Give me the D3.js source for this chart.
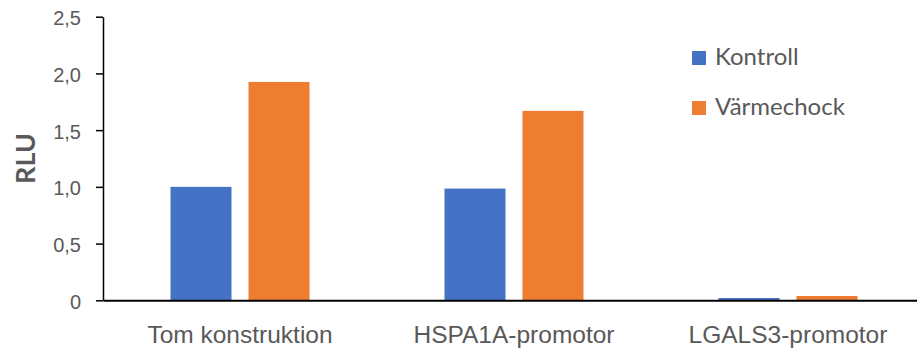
<!DOCTYPE html>
<html>
<head>
<meta charset="utf-8">
<script src="https://cdn.jsdelivr.net/npm/d3@7"></script>
<style>
  html, body { margin: 0; padding: 0; background: #fff; }
  svg { display: block; font-family: Lato, "Open Sans", sans-serif; }
</style>
</head>
<body>
<svg id="chart" width="917" height="352"></svg>
<script>
// Relative luciferase activity per construct
const categories = ["Tom konstruktion", "HSPA1A-promotor", "LGALS3-promotor"];
const series = ["Kontroll", "Värmechock"];
const kontroll = [1.0, 0.985, 0.02];
const varmechock = [1.925, 1.67, 0.038];
const yTicks = [0, 0.5, 1.0, 1.5, 2.0, 2.5];
const colors = ["#4472C4", "#ED7D31"];

const svg = d3.select("#chart");
const plotLeft = 103, plotTop = 16.7, plotBottom = 300.3;
const bandW = 274;

const x0 = d3.scaleBand().domain(categories).range([plotLeft, plotLeft + bandW * categories.length]).padding(0);
const groupW = 139;
const x1 = d3.scaleBand().domain(series).range([0, groupW]).paddingInner(0.218).paddingOuter(0);
const y = d3.scaleLinear().domain([0, 2.5]).range([plotBottom, plotTop]);
const color = d3.scaleOrdinal().domain(series).range(colors);

const fmt = v => v === 0 ? "0" : d3.format(".1f")(v).replace(".", ",");

// Bars
const rows = categories.map((c, i) => ({ cat: c, vals: [kontroll[i], varmechock[i]] }));
const g = svg.append("g");
g.selectAll("g.grp").data(rows).join("g")
  .attr("class", "grp")
  .attr("transform", d => `translate(${x0(d.cat) + (x0.bandwidth() - groupW) / 2},0)`)
  .selectAll("rect").data(d => d.vals.map((v, j) => ({ s: series[j], v })))
  .join("rect")
  .attr("x", d => x1(d.s))
  .attr("width", x1.bandwidth())
  .attr("y", d => y(d.v))
  .attr("height", d => y(0) - y(d.v))
  .attr("fill", d => color(d.s));

// Y axis
const yAxis = svg.append("g")
  .attr("transform", `translate(${plotLeft},0)`)
  .call(d3.axisLeft(y).tickValues(yTicks).tickFormat(fmt).tickSize(7).tickPadding(15).tickSizeOuter(0));
yAxis.select(".domain").attr("stroke", "#000").attr("stroke-width", 1.5);
yAxis.selectAll(".tick line").attr("stroke", "#000").attr("stroke-width", 1.5);
yAxis.selectAll(".tick text").attr("fill", "#595959").attr("dy", "0.4em").style("font-size", "20px");

// X axis
const xAxis = svg.append("g")
  .attr("transform", `translate(0,${plotBottom})`)
  .call(d3.axisBottom(x0).tickSize(0).tickPadding(25).tickSizeOuter(0));
xAxis.select(".domain").attr("stroke", "#000").attr("stroke-width", 2);
xAxis.selectAll(".tick text").attr("fill", "#595959").style("font-size", "24.5px");

// Y axis title
svg.append("text")
  .attr("transform", "translate(35,158.5) rotate(-90)")
  .attr("text-anchor", "middle")
  .attr("fill", "#595959")
  .style("font-size", "27px")
  .style("font-weight", "bold")
  .text("RLU");

// Legend
const leg = svg.append("g").selectAll("g").data(series).join("g")
  .attr("transform", (d, i) => `translate(692,${51 + i * 50})`);
leg.append("rect").attr("width", 14).attr("height", 14).attr("fill", d => color(d));
leg.append("text").attr("x", 23).attr("y", 14).attr("fill", "#595959")
  .style("font-size", "24px").text(d => d);
</script>
</body>
</html>
